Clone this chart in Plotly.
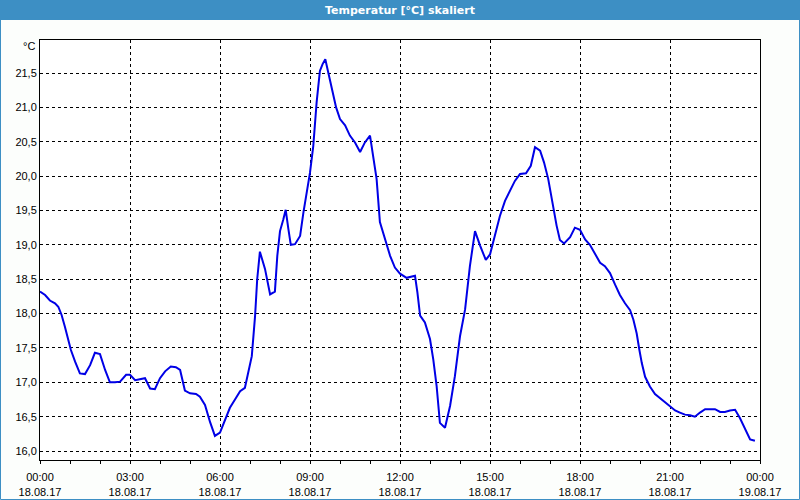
import pandas as pd
import plotly.graph_objects as go

# hours since 18.08.17 00:00
hours = [0.00, 0.17, 0.33, 0.50, 0.61, 0.72, 0.83, 0.94, 1.03, 1.17, 1.33, 1.50, 1.67, 1.83,
         2.00, 2.17, 2.33, 2.50, 2.67, 2.87, 3.00, 3.17, 3.33, 3.50, 3.67, 3.83, 4.00, 4.17,
         4.36, 4.53, 4.67, 4.83, 5.00, 5.20, 5.33, 5.50, 5.67, 5.83, 6.00, 6.17, 6.33, 6.50,
         6.67, 6.83, 6.94, 7.06, 7.17, 7.24, 7.33, 7.50, 7.67, 7.83, 7.91, 8.00, 8.11, 8.19,
         8.28, 8.36, 8.50, 8.67, 8.78, 8.89, 9.00, 9.11, 9.22, 9.33, 9.42, 9.51, 9.61, 9.72,
         9.87, 10.00, 10.17, 10.33, 10.50, 10.67, 10.83, 11.00, 11.11, 11.22, 11.33, 11.50,
         11.67, 11.83, 12.00, 12.22, 12.50, 12.58, 12.67, 12.83, 13.00, 13.11, 13.22, 13.33,
         13.50, 13.67, 13.83, 14.00, 14.17, 14.33, 14.50, 14.67, 14.86, 15.00, 15.17, 15.33,
         15.50, 15.67, 15.83, 16.00, 16.20, 16.36, 16.50, 16.67, 16.80, 16.94, 17.09, 17.22,
         17.33, 17.47, 17.67, 17.83, 18.00, 18.17, 18.33, 18.50, 18.67, 18.83, 19.00, 19.17,
         19.33, 19.50, 19.67, 19.78, 19.89, 19.98, 20.06, 20.17, 20.33, 20.50, 20.67, 20.83,
         21.00, 21.17, 21.33, 21.50, 21.67, 21.83, 22.00, 22.17, 22.33, 22.50, 22.67, 22.83,
         23.00, 23.17, 23.33, 23.50, 23.67, 23.83]
temps = [18.32, 18.27, 18.19, 18.15, 18.10, 17.98, 17.81, 17.62, 17.47, 17.30, 17.13, 17.12, 17.25, 17.43,
         17.41, 17.18, 17.00, 17.00, 17.01, 17.11, 17.11, 17.03, 17.04, 17.06, 16.91, 16.90, 17.06, 17.16,
         17.23, 17.22, 17.18, 16.88, 16.84, 16.83, 16.79, 16.67, 16.42, 16.22, 16.27, 16.46, 16.63, 16.75,
         16.87, 16.92, 17.14, 17.38, 17.97, 18.50, 18.90, 18.65, 18.28, 18.32, 18.84, 19.20, 19.37, 19.51,
         19.23, 19.00, 19.01, 19.13, 19.47, 19.76, 20.05, 20.44, 21.07, 21.53, 21.63, 21.70, 21.51, 21.27,
         21.00, 20.83, 20.74, 20.59, 20.49, 20.35, 20.49, 20.59, 20.30, 19.96, 19.33, 19.08,
         18.84, 18.67, 18.58, 18.52, 18.55, 18.31, 17.97, 17.87, 17.63, 17.33, 16.95, 16.41,
         16.34, 16.66, 17.09, 17.67, 18.06, 18.69, 19.20, 18.99, 18.78, 18.86, 19.13, 19.42,
         19.64, 19.79, 19.93, 20.03, 20.04, 20.15, 20.42, 20.37, 20.20, 19.96, 19.57, 19.28,
         19.07, 19.02, 19.11, 19.25, 19.22, 19.08, 19.00, 18.88, 18.74, 18.69, 18.59, 18.42,
         18.27, 18.15, 18.05, 17.91, 17.71, 17.47, 17.28, 17.08, 16.94, 16.83, 16.77, 16.70,
         16.64, 16.59, 16.56, 16.53, 16.52, 16.50, 16.56, 16.61, 16.61, 16.61, 16.57, 16.57,
         16.59, 16.60, 16.48, 16.33, 16.17, 16.15]

tick_times = ["2017-08-18 00:00", "2017-08-18 03:00", "2017-08-18 06:00", "2017-08-18 09:00",
              "2017-08-18 12:00", "2017-08-18 15:00", "2017-08-18 18:00", "2017-08-18 21:00",
              "2017-08-19 00:00"]
tick_labels = ["00:00<br>18.08.17", "03:00<br>18.08.17", "06:00<br>18.08.17", "09:00<br>18.08.17",
               "12:00<br>18.08.17", "15:00<br>18.08.17", "18:00<br>18.08.17", "21:00<br>18.08.17",
               "00:00<br>19.08.17"]
y_ticks = [16.0, 16.5, 17.0, 17.5, 18.0, 18.5, 19.0, 19.5, 20.0, 20.5, 21.0, 21.5]

base = pd.Timestamp("2017-08-18 00:00")
times = [base + pd.to_timedelta(h, unit="h") for h in hours]

fig = go.Figure()
fig.add_trace(go.Scatter(x=times, y=temps, mode="lines",
                         line=dict(color="#0000E6", width=2), showlegend=False))

W, H = 800, 500
ml, mr, mt, mb = 40, 40, 40, 40
pw, ph = W - ml - mr, H - mt - mb
px = lambda p: (p - ml) / pw
py = lambda p: 1 - (p - mt) / ph

font = dict(family="Liberation Sans, Arial, sans-serif", size=11, color="#000000")

fig.update_layout(
    width=W, height=H,
    margin=dict(l=ml, r=mr, t=mt, b=mb),
    paper_bgcolor="#FCFEFC", plot_bgcolor="#FFFFFF",
    separators=",.",
    font=font,
    shapes=[
        dict(type="rect", xref="paper", yref="paper", x0=px(0), x1=px(W), y0=py(0), y1=py(20),
             fillcolor="#3D8FC4", line=dict(width=0), layer="above"),
        dict(type="rect", xref="paper", yref="paper", x0=px(0.5), x1=px(W - 0.5), y0=py(0.5), y1=py(H - 0.5),
             fillcolor="rgba(0,0,0,0)", line=dict(color="#3D8FC4", width=1), layer="above"),
    ],
    annotations=[
        dict(text="<b>Temperatur [°C] skaliert</b>", xref="paper", yref="paper",
             x=px(W / 2), y=py(10), xanchor="center", yanchor="middle", showarrow=False,
             font=dict(family="DejaVu Sans, sans-serif", size=11, color="#FFFFFF")),
        dict(text="°C", xref="paper", yref="paper", x=px(37), y=py(46),
             xanchor="right", yanchor="middle", showarrow=False, font=font),
    ],
)

fig.update_xaxes(
    type="date", range=["2017-08-18 00:00", "2017-08-19 00:00"],
    tickvals=tick_times, ticktext=tick_labels,
    ticks="outside", ticklen=3, tickcolor="#000000", ticklabelstandoff=4,
    minor=dict(dtick=3600000, ticks="outside", ticklen=3, tickcolor="#000000", showgrid=False),
    showgrid=True, gridcolor="#000000", gridwidth=1, griddash="3px,3px",
    showline=True, linecolor="#000000", linewidth=1, mirror=True,
    zeroline=False, tickfont=font, automargin=False,
)
fig.update_yaxes(
    range=[15.87, 21.98], tickvals=y_ticks, tickformat=".1f",
    ticks="", showgrid=True, gridcolor="#000000", gridwidth=1, griddash="3px,3px",
    showline=True, linecolor="#000000", linewidth=1, mirror=True,
    zeroline=False, tickfont=font, automargin=False,
)

fig.write_html("out.html")
